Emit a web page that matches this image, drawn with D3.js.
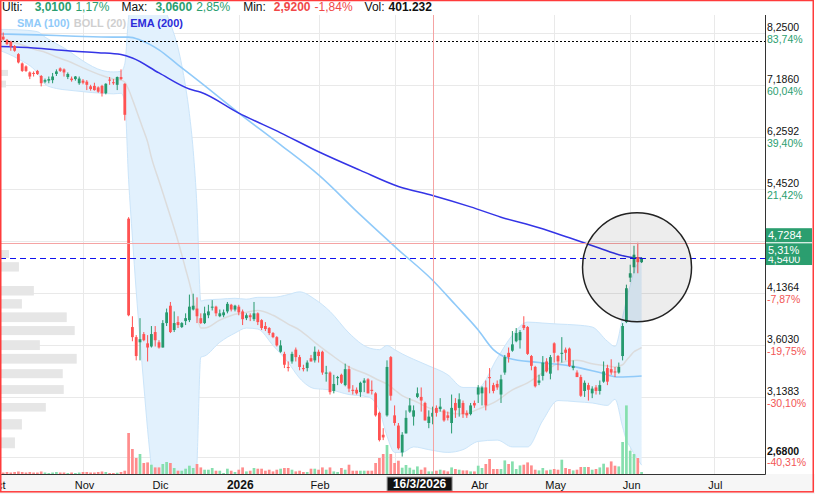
<!DOCTYPE html>
<html><head><meta charset="utf-8">
<script src="https://cdn.jsdelivr.net/npm/d3@7/dist/d3.min.js"></script>
<style>
html,body{margin:0;padding:0;background:#fff;}
svg{display:block;font-family:"Liberation Sans",Arial,sans-serif;}
</style></head><body>
<svg id="c" width="815" height="494"></svg>
<script>
// ---------- DATA (trading-day index 0 = first visible session, early Oct 2025) ----------
const open = [8.06,8.17,8.10,8.06,7.97,7.80,7.61,7.55,7.43,7.42,
7.46,7.36,7.25,7.27,7.28,7.40,7.51,7.49,7.34,7.31,
7.30,7.22,7.27,7.25,7.16,7.17,7.14,7.17,7.03,7.29,
7.24,7.19,7.34,7.21,5.04,3.78,3.68,3.63,3.71,3.62,
3.59,3.73,3.63,3.58,3.82,4.00,3.75,3.83,3.78,3.84,
3.85,3.96,3.97,3.87,3.82,3.90,3.98,3.99,3.89,3.90,
3.94,4.01,3.96,3.99,3.94,3.87,3.90,3.86,3.92,3.85,
3.79,3.77,3.72,3.68,3.54,3.52,3.40,3.45,3.56,3.49,
3.39,3.39,3.48,3.46,3.54,3.54,3.34,3.35,3.19,3.30,
3.33,3.24,3.38,3.20,3.20,3.18,3.26,3.29,3.20,3.17,
3.01,2.84,2.99,3.49,2.99,2.91,2.71,2.85,3.02,2.98,
3.14,3.14,3.09,2.93,2.98,3.05,3.04,3.03,2.99,2.93,
3.09,3.05,3.09,3.01,3.00,3.09,3.16,3.17,3.22,3.31,
3.24,3.25,3.16,3.35,3.53,3.55,3.64,3.65,3.80,3.78,
3.50,3.40,3.26,3.32,3.45,3.34,3.62,3.50,3.52,3.56,
3.57,3.39,3.35,3.31,3.19,3.24,3.17,3.22,3.19,3.27,
3.39,3.38,3.36,3.35,3.50,3.83,4.31,4.43,4.55,4.49];
const high = [8.19,8.26,8.12,8.08,7.99,7.82,7.63,7.57,7.45,7.45,
7.48,7.38,7.31,7.35,7.42,7.49,7.53,7.51,7.43,7.35,
7.36,7.35,7.30,7.28,7.19,7.23,7.16,7.19,7.22,7.34,
7.30,7.35,7.49,7.22,5.06,3.89,3.70,3.87,3.73,3.70,
3.79,3.79,3.65,3.85,3.97,4.04,3.94,3.89,3.83,3.92,
4.12,4.13,4.09,3.92,3.99,4.01,4.06,4.00,3.96,3.96,
4.04,4.02,4.01,4.01,3.96,3.92,3.92,4.04,3.93,3.86,
3.83,3.78,3.73,3.69,3.65,3.54,3.45,3.54,3.58,3.51,
3.42,3.46,3.51,3.59,3.56,3.55,3.41,3.36,3.33,3.32,
3.34,3.43,3.41,3.24,3.22,3.27,3.30,3.30,3.28,3.18,
3.02,2.89,3.46,3.50,3.07,2.93,2.86,3.03,3.13,3.07,
3.22,3.22,3.10,3.03,3.06,3.07,3.13,3.04,3.02,3.16,
3.13,3.17,3.11,3.03,3.09,3.11,3.24,3.23,3.28,3.39,
3.26,3.28,3.33,3.51,3.58,3.74,3.77,3.75,3.89,3.79,
3.51,3.41,3.33,3.50,3.48,3.51,3.63,3.51,3.68,3.58,
3.58,3.46,3.37,3.33,3.28,3.26,3.23,3.24,3.28,3.45,
3.42,3.47,3.40,3.44,3.82,4.23,4.46,4.69,4.7284,4.55];
const low = [8.04,8.10,7.99,7.87,7.85,7.61,7.44,7.44,7.30,7.35,
7.38,7.16,7.22,7.22,7.22,7.36,7.44,7.35,7.30,7.25,
7.27,7.19,7.20,7.09,7.08,7.08,7.04,6.97,7.01,7.19,
7.19,7.09,7.28,6.54,3.89,3.64,3.46,3.46,3.64,3.45,
3.58,3.59,3.57,3.58,3.79,3.72,3.73,3.77,3.77,3.80,
3.83,3.95,3.82,3.81,3.81,3.87,3.95,3.89,3.88,3.88,
3.92,3.94,3.94,3.90,3.80,3.85,3.84,3.84,3.80,3.75,
3.74,3.70,3.67,3.59,3.53,3.39,3.36,3.43,3.45,3.37,
3.36,3.36,3.45,3.44,3.44,3.33,3.27,3.16,3.17,3.24,
3.25,3.23,3.18,3.16,3.16,3.14,3.18,3.17,3.16,2.98,
2.79,2.80,2.98,3.11,2.91,2.73,2.68,2.85,3.01,2.91,
3.13,3.02,2.95,2.89,2.92,2.98,3.02,2.94,2.95,2.85,
2.97,2.98,2.97,2.97,2.99,3.05,3.09,3.07,3.03,3.17,
3.17,3.20,3.09,3.33,3.44,3.54,3.63,3.57,3.75,3.51,
3.37,3.22,3.24,3.28,3.35,3.29,3.44,3.37,3.44,3.46,
3.40,3.37,3.31,3.14,3.14,3.11,3.13,3.16,3.16,3.26,
3.24,3.33,3.31,3.34,3.46,3.82,4.26,4.36,4.36,4.48];
const close = [8.16,8.11,8.01,7.96,7.87,7.63,7.46,7.46,7.35,7.41,
7.40,7.22,7.28,7.30,7.35,7.45,7.46,7.43,7.40,7.28,
7.35,7.31,7.23,7.19,7.11,7.09,7.06,7.03,7.21,7.27,
7.22,7.34,7.30,6.64,3.90,3.68,3.50,3.66,3.65,3.58,
3.71,3.65,3.58,3.82,3.93,3.73,3.82,3.80,3.82,3.87,
3.99,4.00,3.89,3.82,3.92,3.94,3.99,3.92,3.92,3.93,
4.02,3.96,4.00,3.93,3.86,3.90,3.88,3.92,3.83,3.77,
3.76,3.72,3.68,3.60,3.60,3.42,3.39,3.52,3.49,3.40,
3.38,3.44,3.45,3.54,3.50,3.35,3.35,3.18,3.25,3.31,
3.26,3.38,3.21,3.19,3.17,3.26,3.28,3.17,3.19,2.99,
2.80,2.82,3.40,3.15,2.93,2.74,2.84,2.97,3.07,3.03,
3.17,3.11,2.95,2.98,3.01,3.01,3.06,2.95,2.97,3.05,
3.03,3.12,3.00,2.99,3.07,3.07,3.22,3.22,3.07,3.30,
3.19,3.22,3.29,3.49,3.49,3.61,3.72,3.73,3.77,3.52,
3.41,3.23,3.28,3.44,3.36,3.49,3.53,3.45,3.53,3.53,
3.41,3.41,3.31,3.15,3.26,3.20,3.21,3.19,3.24,3.36,
3.27,3.35,3.35,3.40,3.79,4.19,4.36,4.58,4.49,4.54];
// volume, thousands of shares
const volume = [308,231,308,231,308,385,308,231,308,231,
231,385,231,154,231,308,231,231,154,231,
154,231,308,308,231,231,308,385,308,154,
154,200,308,508,6314,3850,2464,3080,1694,1786,
1432,1016,1016,1540,1848,1694,924,508,508,816,
1278,924,1540,1016,662,662,924,508,508,154,
816,508,308,662,1016,400,508,924,816,816,
508,662,400,662,816,924,924,662,400,508,
308,308,816,816,662,1016,662,1016,400,308,
924,662,1432,508,508,508,508,508,508,1694,
2464,3080,4466,3080,1694,2048,970,1386,970,662,
1170,662,1016,400,401.232,508,662,554,400,1016,
770,662,554,554,400,400,1278,924,1540,2310,
770,770,770,2094,1540,1940,770,1324,1432,1786,
1324,662,554,924,554,662,770,662,2202,924,
770,554,662,1078,1078,1078,662,770,1016,1586,
1016,1940,1278,1170,4928,10564,3588,3080,2464,308];

// indicators at sample sessions
const emaIdx = [0,9,18,26,32,35,42,50,53,63,74,84,95,105,114,124,132,142,150,158,163,166,169];
const emaVal = [7.96,7.93,7.87,7.83,7.79,7.72,7.42,7.11,7.05,6.67,6.33,6.02,5.73,5.49,5.36,5.20,5.06,4.92,4.79,4.66,4.58,4.55,4.54];
const smaIdx = [0,10,20,30,34,37,42,47,53,63,74,84,95,105,114,120,126,130,134,142,150,158,163,169];
const smaVal = [8.23,8.21,8.18,8.16,8.16,8.10,7.89,7.58,7.23,6.67,6.13,5.66,5.09,4.64,4.28,4.01,3.75,3.56,3.48,3.44,3.41,3.35,3.31,3.32];
const bollIdx = [0,5,10,12,15,18,22,27,30,32,33,34,35,36,37,38,39,40,42,45,47,48,49,50,51,52,53,54,58,62,65,68,72,76,79,83,87,92,97,100,102,104,106,109,113,118,122,126,131,135,139,143,147,152,156,160,162,164,165,166,167,168,169];
const bollUp  = [8.33,8.32,8.28,8.16,8.02,7.88,7.66,7.47,7.44,7.45,7.60,8.60,9.03,9.30,9.42,9.48,9.48,9.27,9.03,8.46,7.93,7.57,7.15,6.66,6.04,5.19,4.05,4.06,4.07,4.08,4.07,4.09,4.09,4.12,4.15,4.07,3.94,3.72,3.58,3.56,3.60,3.56,3.52,3.47,3.41,3.33,3.22,3.22,3.48,3.70,3.83,3.82,3.81,3.80,3.78,3.64,3.59,3.88,4.06,4.22,4.38,4.48,4.55];
const bollMid = [8.10,8.02,7.88,7.84,7.74,7.66,7.52,7.37,7.30,7.28,7.24,7.10,6.92,6.73,6.54,6.36,6.18,5.93,5.57,5.07,4.75,4.58,4.41,4.25,4.08,3.91,3.77,3.77,3.85,3.91,3.93,3.95,3.90,3.81,3.75,3.63,3.52,3.40,3.33,3.28,3.25,3.20,3.15,3.11,3.05,3.01,3.00,3.04,3.11,3.20,3.26,3.35,3.43,3.46,3.43,3.41,3.40,3.42,3.46,3.50,3.54,3.56,3.58];
const bollLow = [7.88,7.70,7.42,7.20,7.12,7.09,7.06,7.03,7.02,7.03,6.88,5.59,4.80,4.16,3.66,3.24,2.88,2.60,2.11,1.69,1.57,1.60,1.67,1.84,2.13,2.63,3.49,3.50,3.63,3.72,3.77,3.76,3.60,3.44,3.30,3.21,3.20,3.16,3.14,3.03,2.83,2.71,2.71,2.75,2.73,2.71,2.73,2.79,2.80,2.75,2.75,2.95,3.11,3.10,3.09,3.07,3.12,2.90,2.80,2.75,2.70,2.66,2.62];

// volume-by-price profile (price bins, relative volume)
const profLo  = [7.36,7.14,4.54,4.38,4.11,3.97,3.83,3.70,3.556,3.43,3.30,3.165,3.02,2.88,2.74];
const profHi  = [7.48,7.27,4.637,4.49,4.215,4.07,3.93,3.79,3.65,3.52,3.38,3.24,3.09,2.96,2.82];
const profVol = [8,6,9,19,34,22,67,75,40,77,63,64,46,22,15];

// axes
const priceTicks = [8.25,7.186,6.2592,5.452,4.749,4.1364,3.603,3.1383,2.68];
const pctLabels  = ["83,74%","60,04%","39,40%","21,42%",null,"-7,87%","-19,75%","-30,10%","-40,31%"];
const monthIdx    = [-1,22,42,63,84,104,126,146,166,188];
const monthLabels = ["Oct","Nov","Dic","2026","Feb",null,"Abr","May","Jun","Jul"]; // March label hidden under the cursor date

// reference levels & annotations
const topLevel = 8.08, lastPrice = 4.54, maxPrice = 4.7284, maxPct = "5,31%";
const cursorIdx = 114, cursorLabel = "16/3/2026";
const circleIdx = 167.8, circlePrice = 4.43;

// header texts
const headerTexts = ["Ulti:","3,0100","1,17%","Max:","3,0600","2,85%","Min:","2,9200","-1,84%","Vol:","401.232"];
const headerKinds = ["lab","upB","up","lab","upB","up","lab","dnB","dn","lab","volB"];
const legendTexts = ["SMA (100)","BOLL (20)","EMA (200)"];

// ---------- DRAW ----------
const W = 815, H = 494;
const P = {l:0, r:765, t:15, b:474};
const C = {up:"#269a6e", dn:"#ff5252", vup:"#86dfae", vdn:"#ff8c8c",
           grid:"#e9e9e9", sma:"#90caf9", ema:"#3434e6", mid:"#dcdcdc",
           band:"#e2f1fd", bandEdge:"#cbe5fa", box:"#2b9e6f", pink:"#f5a3a3"};
const fmt4 = v => d3.format(".4f")(v).replace(".", ",");

const svg = d3.select("#c");
svg.append("rect").attr("width",W).attr("height",H).attr("fill","#fff");
svg.append("rect").attr("x",0).attr("y",P.b).attr("width",W).attr("height",H-P.b).attr("fill","#f6f6f6");

const x  = d3.scaleLinear().domain([-0.5, 201.5]).range([-2.5, 765.1]);
const y  = d3.scaleLog().domain([2.68, 8.25]).range([456.6, 33]);
const vy = d3.scaleLinear().domain([0, d3.max(volume)]).range([P.b, P.b - 68.6]);
const pw = d3.scaleLinear().domain([0, d3.max(profVol)]).range([0, 76.7]);

svg.append("defs").append("clipPath").attr("id","clip")
  .append("rect").attr("x",P.l).attr("y",P.t).attr("width",P.r-P.l).attr("height",P.b-P.t);
const g = svg.append("g").attr("clip-path","url(#clip)");

// grid
g.selectAll("line.hg").data(priceTicks).enter().append("line")
  .attr("x1",P.l).attr("x2",P.r)
  .attr("y1",d=>Math.round(y(d))+0.5).attr("y2",d=>Math.round(y(d))+0.5)
  .attr("stroke",C.grid).attr("stroke-width",1);
g.selectAll("line.vg").data(monthIdx).enter().append("line")
  .attr("y1",P.t).attr("y2",P.b)
  .attr("x1",d=>Math.round(x(d))+0.5).attr("x2",d=>Math.round(x(d))+0.5)
  .attr("stroke",C.grid).attr("stroke-width",1);

// volume profile
g.selectAll("rect.vp").data(profVol).enter().append("rect")
  .attr("x",P.l).attr("width",d=>pw(d))
  .attr("y",(d,i)=>y(profHi[i])).attr("height",(d,i)=>y(profLo[i])-y(profHi[i]))
  .attr("fill","#e6e6e6");

// Bollinger band
const bollPts = bollIdx.map((j,i)=>({j, u:bollUp[i], m:bollMid[i], l:bollLow[i]}));
g.append("path").datum(bollPts)
  .attr("d", d3.area().x(d=>x(d.j)).y0(d=>y(d.l)).y1(d=>y(d.u)).curve(d3.curveMonotoneX))
  .attr("fill",C.band);
["u","l"].forEach(k=>{
  g.append("path").datum(bollPts)
   .attr("d", d3.line().x(d=>x(d.j)).y(d=>y(d[k])).curve(d3.curveMonotoneX))
   .attr("fill","none").attr("stroke",C.bandEdge).attr("stroke-width",1);
});
g.append("path").datum(bollPts)
  .attr("d", d3.line().x(d=>x(d.j)).y(d=>y(d.m)).curve(d3.curveMonotoneX))
  .attr("fill","none").attr("stroke",C.mid).attr("stroke-width",1.5);

// volume bars
const idx = d3.range(close.length);
g.selectAll("rect.vol").data(idx).enter().append("rect")
  .attr("x",j=>x(j)-1.35).attr("width",2.7)
  .attr("y",j=>vy(volume[j])).attr("height",j=>P.b - vy(volume[j]))
  .attr("fill",j=>close[j]>=open[j]?C.vup:C.vdn);

// SMA & EMA
g.append("path").datum(smaIdx.map((j,i)=>[j,smaVal[i]]))
  .attr("d", d3.line().x(d=>x(d[0])).y(d=>y(d[1])).curve(d3.curveMonotoneX))
  .attr("fill","none").attr("stroke",C.sma).attr("stroke-width",1.6);
g.append("path").datum(emaIdx.map((j,i)=>[j,emaVal[i]]))
  .attr("d", d3.line().x(d=>x(d[0])).y(d=>y(d[1])).curve(d3.curveMonotoneX))
  .attr("fill","none").attr("stroke",C.ema).attr("stroke-width",1.5);

// candles
const cg = g.selectAll("g.cd").data(idx).enter().append("g");
cg.append("rect")
  .attr("x",j=>x(j)-0.5).attr("width",1)
  .attr("y",j=>y(high[j])).attr("height",j=>Math.max(1,y(low[j])-y(high[j])))
  .attr("fill",j=>close[j]>=open[j]?C.up:C.dn);
cg.append("rect")
  .attr("x",j=>x(j)-1.4).attr("width",2.8)
  .attr("y",j=>y(Math.max(open[j],close[j])))
  .attr("height",j=>Math.max(1,Math.abs(y(open[j])-y(close[j]))))
  .attr("fill",j=>close[j]>=open[j]?C.up:C.dn);

// reference lines
g.append("line").attr("x1",P.l).attr("x2",P.r)
  .attr("y1",Math.round(y(topLevel))+0.5).attr("y2",Math.round(y(topLevel))+0.5)
  .attr("stroke","#000").attr("stroke-dasharray","2,2");
g.append("line").attr("x1",P.l).attr("x2",P.r)
  .attr("y1",Math.round(y(maxPrice))+0.5).attr("y2",Math.round(y(maxPrice))+0.5)
  .attr("stroke",C.pink);
g.append("line").attr("x1",P.l).attr("x2",P.r)
  .attr("y1",Math.round(y(lastPrice))+0.5).attr("y2",Math.round(y(lastPrice))+0.5)
  .attr("stroke","#1010f0").attr("stroke-width",1.2).attr("stroke-dasharray","6,4");
g.append("line").attr("y1",P.t).attr("y2",P.b)
  .attr("x1",Math.round(x(cursorIdx))+0.5).attr("x2",Math.round(x(cursorIdx))+0.5)
  .attr("stroke",C.pink);

// highlight circle
g.append("circle").attr("cx",x(circleIdx)).attr("cy",y(circlePrice)).attr("r",54.5)
  .attr("fill","rgba(0,0,0,0.07)").attr("stroke","#222").attr("stroke-width",1.5);

// frame
svg.append("line").attr("x1",P.l).attr("x2",P.r+0.5).attr("y1",P.b+0.5).attr("y2",P.b+0.5)
  .attr("stroke","#333");
svg.append("line").attr("x1",P.r+0.5).attr("x2",P.r+0.5).attr("y1",P.t).attr("y2",P.b+0.5)
  .attr("stroke","#333");

// right axis labels
priceTicks.forEach((t,i)=>{
  if(pctLabels[i]===null) return;
  const yy = y(t);
  svg.append("text").attr("x",P.r+2).attr("y",yy-1.8).text(fmt4(t))
    .attr("font-size",10.5).attr("fill","#111")
    .attr("font-weight", t===2.68?"bold":"normal");
  svg.append("text").attr("x",P.r+2).attr("y",yy+9.6).text(pctLabels[i])
    .attr("font-size",10.5).attr("fill", pctLabels[i][0]==="-" ? "#f25555" : "#2b9e6f");
});
// last price box (partly covered by the max-price boxes, as in the original)
{
  const yy = y(lastPrice);
  svg.append("rect").attr("x",P.r+1).attr("y",yy-7).attr("width",46).attr("height",14).attr("fill",C.box);
  svg.append("text").attr("x",P.r+3).attr("y",yy+4.5).text(fmt4(lastPrice))
    .attr("font-size",10.5).attr("fill","#fff");
}
// max price boxes
{
  const yy = y(maxPrice);
  svg.append("rect").attr("x",P.r+1).attr("y",yy-14.5).attr("width",46).attr("height",14).attr("fill",C.box);
  svg.append("text").attr("x",P.r+3).attr("y",yy-3.8).text(fmt4(maxPrice))
    .attr("font-size",11).attr("fill","#fff");
  svg.append("rect").attr("x",P.r+1).attr("y",yy+0.6).attr("width",46).attr("height",13.4).attr("fill",C.box);
  svg.append("text").attr("x",P.r+3).attr("y",yy+11).text(maxPct)
    .attr("font-size",11).attr("fill","#fff");
}

// x-axis labels
monthIdx.forEach((j,i)=>{
  if(!monthLabels[i]) return;
  svg.append("text").attr("x",x(j)+1.5).attr("y",489)
    .attr("text-anchor","middle").text(monthLabels[i])
    .attr("font-size", monthLabels[i]==="2026"?12:11)
    .attr("font-weight", monthLabels[i]==="2026"?"bold":"normal")
    .attr("fill","#111");
});
// cursor date box
{
  const cx = x(cursorIdx);
  svg.append("rect").attr("x",cx-45.5).attr("y",477).attr("width",65).attr("height",14)
    .attr("fill","#111").attr("stroke","#999").attr("stroke-width",1);
  svg.append("text").attr("x",cx-13).attr("y",488.3).attr("text-anchor","middle")
    .text(cursorLabel).attr("font-size",12).attr("font-weight","bold").attr("fill","#fff");
}

// header
{
  const colors = {lab:"#111", upB:"#2b9e6f", up:"#2b9e6f", dnB:"#f04848", dn:"#f04848", volB:"#111"};
  const gaps = [0,12,4,12,8,4,13,8,4,12,4];
  const t = svg.append("text").attr("x",2).attr("y",11).attr("font-size",12);
  headerTexts.forEach((s,i)=>{
    t.append("tspan").attr("dx", i===0?0:gaps[i]).text(s)
     .attr("fill",colors[headerKinds[i]])
     .attr("font-weight", headerKinds[i].endsWith("B")?"bold":"normal");
  });
}
// legend
{
  const cols = [C.sma, "#cfcfcf", "#2b2bd9"];
  const t = svg.append("text").attr("x",17).attr("y",27).attr("font-size",11).attr("font-weight","bold");
  legendTexts.forEach((s,i)=>{
    t.append("tspan").attr("dx", i===0?0:4).text(s).attr("fill",cols[i]);
  });
}

// outer red border
svg.append("rect").attr("x",0.75).attr("y",0.5).attr("width",812.5).attr("height",491.3)
  .attr("fill","none").attr("stroke","#ff3b3b").attr("stroke-width",1.5);
</script>
</body></html>
